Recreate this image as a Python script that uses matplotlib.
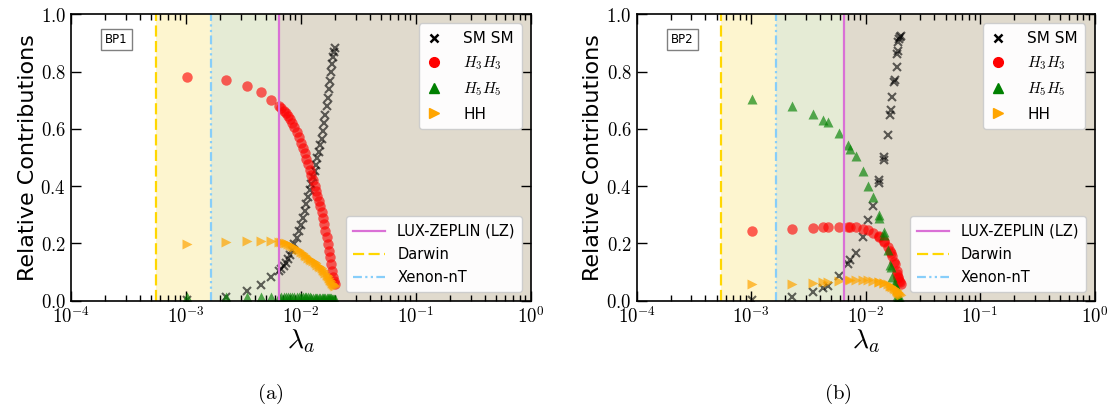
import numpy as np
import matplotlib
matplotlib.use("Agg")
import matplotlib.pyplot as plt
from matplotlib.lines import Line2D
from matplotlib.ticker import FuncFormatter, LogLocator, NullFormatter

plt.rcParams["mathtext.fontset"] = "cm"
plt.rcParams["font.family"] = "DejaVu Sans"

# experiment reach (lambda_a)
lz_lam = 6.5e-3
darwin_lam = 5.5e-4
xenon_lam = 1.66e-3

# ---- BP1 ----
lam_a = [1.03e-3, 2.24e-3, 3.39e-3, 4.5e-3, 5.55e-3, 6.5e-3, 6.8e-3, 7.1e-3, 7.4e-3,
         7.7e-3, 8.0e-3, 8.4e-3, 8.8e-3, 9.2e-3, 9.6e-3, 1.0e-2, 1.04e-2, 1.08e-2,
         1.12e-2, 1.16e-2, 1.2e-2, 1.24e-2, 1.28e-2, 1.32e-2, 1.36e-2, 1.4e-2, 1.44e-2,
         1.48e-2, 1.52e-2, 1.56e-2, 1.6e-2, 1.64e-2, 1.68e-2, 1.72e-2, 1.76e-2, 1.8e-2,
         1.84e-2, 1.88e-2, 1.92e-2, 1.96e-2, 2.0e-2]
smsm_a = [0.003, 0.012, 0.035, 0.055, 0.084, 0.102, 0.111, 0.122, 0.133,
          0.145, 0.159, 0.177, 0.197, 0.219, 0.242, 0.266, 0.289, 0.313,
          0.337, 0.362, 0.386, 0.409, 0.431, 0.453, 0.475, 0.497, 0.520,
          0.542, 0.566, 0.592, 0.620, 0.650, 0.679, 0.708, 0.738, 0.767,
          0.797, 0.826, 0.851, 0.870, 0.884]
h3h3_a = [0.782, 0.770, 0.750, 0.727, 0.700, 0.680, 0.672, 0.663, 0.654,
          0.645, 0.634, 0.620, 0.605, 0.588, 0.570, 0.551, 0.533, 0.514,
          0.495, 0.476, 0.456, 0.438, 0.420, 0.402, 0.384, 0.366, 0.348,
          0.330, 0.311, 0.290, 0.268, 0.245, 0.222, 0.198, 0.175, 0.152,
          0.128, 0.105, 0.084, 0.068, 0.057]
h5h5_a = [0.012, 0.012, 0.012, 0.012, 0.013, 0.013, 0.013, 0.013, 0.013,
          0.013, 0.013, 0.013, 0.012, 0.012, 0.012, 0.012, 0.012, 0.012,
          0.012, 0.012, 0.012, 0.011, 0.011, 0.011, 0.011, 0.011, 0.010,
          0.010, 0.010, 0.010, 0.010, 0.009, 0.009, 0.009, 0.008, 0.008,
          0.008, 0.007, 0.007, 0.007, 0.006]
hh_a = [0.197, 0.205, 0.207, 0.207, 0.207, 0.205, 0.204, 0.202, 0.200,
        0.197, 0.194, 0.190, 0.186, 0.181, 0.176, 0.171, 0.166, 0.161,
        0.156, 0.150, 0.146, 0.142, 0.138, 0.134, 0.130, 0.126, 0.122,
        0.118, 0.113, 0.108, 0.102, 0.096, 0.090, 0.085, 0.079, 0.073,
        0.067, 0.062, 0.058, 0.055, 0.053]

# ---- BP2 ----
lam_b = [1.03e-3, 2.26e-3, 3.46e-3, 4.23e-3, 4.67e-3, 5.9e-3, 7.1e-3, 7.3e-3, 8.3e-3,
         9.5e-3, 1.06e-2, 1.17e-2, 1.3e-2, 1.32e-2, 1.44e-2, 1.46e-2, 1.56e-2, 1.64e-2,
         1.66e-2, 1.71e-2, 1.78e-2, 1.80e-2, 1.87e-2, 1.90e-2, 1.92e-2, 1.93e-2, 1.95e-2,
         2.0e-2, 2.05e-2]
smsm_b = [0.003, 0.012, 0.031, 0.045, 0.052, 0.086, 0.128, 0.142, 0.166,
          0.223, 0.282, 0.330, 0.410, 0.420, 0.490, 0.503, 0.579, 0.650,
          0.665, 0.712, 0.762, 0.772, 0.817, 0.860, 0.872, 0.905, 0.915,
          0.920, 0.925]
h3h3_b = [0.243, 0.249, 0.255, 0.258, 0.258, 0.258, 0.258, 0.258, 0.256,
          0.252, 0.246, 0.238, 0.226, 0.224, 0.208, 0.205, 0.188, 0.172,
          0.167, 0.155, 0.135, 0.128, 0.105, 0.092, 0.083, 0.078, 0.070,
          0.064, 0.058]
h5h5_b = [0.703, 0.679, 0.651, 0.632, 0.624, 0.586, 0.542, 0.528, 0.505,
          0.453, 0.401, 0.363, 0.298, 0.290, 0.240, 0.231, 0.176, 0.125,
          0.116, 0.084, 0.059, 0.058, 0.042, 0.015, 0.014, 0.008, 0.005,
          0.004, 0.003]
hh_b = [0.057, 0.060, 0.063, 0.065, 0.066, 0.070, 0.072, 0.072, 0.073,
        0.072, 0.071, 0.069, 0.066, 0.066, 0.062, 0.061, 0.057, 0.053,
        0.052, 0.049, 0.044, 0.042, 0.036, 0.033, 0.031, 0.029, 0.027,
        0.024, 0.021]


def panel(ax, lam, sm, h3, h5, hh, tag):
    ax.axvspan(darwin_lam, xenon_lam, color="#fdf5cf", lw=0, zorder=0)
    ax.axvspan(xenon_lam, lz_lam, color="#e5ebd5", lw=0, zorder=0)
    ax.axvspan(lz_lam, 1.0, color="#e0dacd", lw=0, zorder=0)

    ax.plot(lam, sm, "x", color="black", alpha=0.6, ms=6, mew=1.5, ls="none")
    ax.plot(lam, h3, "o", color="red", alpha=0.62, ms=7.5, mec="none", ls="none")
    ax.plot(lam, h5, "^", color="green", alpha=0.65, ms=7, mec="none", ls="none")
    ax.plot(lam, hh, ">", color="orange", alpha=0.7, ms=7, mec="none", ls="none")

    l_lz = ax.axvline(lz_lam, color="orchid", lw=1.6)
    l_dw = ax.axvline(darwin_lam, color="gold", lw=1.6, ls=(0, (5, 2)))
    l_xe = ax.axvline(xenon_lam, color="lightskyblue", lw=1.6, ls=(0, (4, 1.5, 1, 1.5, 1, 1.5)))

    ax.set_xscale("log")
    ax.set_xlim(1e-4, 1.0)
    ax.set_ylim(0, 1.0)
    ax.set_yticks([0, 0.2, 0.4, 0.6, 0.8, 1.0])
    ax.xaxis.set_major_locator(LogLocator(base=10, numticks=10))
    ax.xaxis.set_minor_locator(LogLocator(base=10, subs=np.arange(2, 10), numticks=20))
    ax.xaxis.set_minor_formatter(NullFormatter())
    ax.xaxis.set_major_formatter(FuncFormatter(lambda v, p: r"$10^{%d}$" % round(np.log10(v))))
    ax.yaxis.set_major_formatter(FuncFormatter(lambda v, p: r"$%.1f$" % v))
    ax.tick_params(which="both", direction="in", top=True, right=True, labelsize=13.5)
    ax.tick_params(which="major", length=7, width=1)
    ax.tick_params(which="minor", length=4, width=1)
    for s in ax.spines.values():
        s.set_linewidth(1.2)

    ax.set_xlabel(r"$\lambda_a$", fontsize=20, labelpad=0)
    ax.set_ylabel("Relative Contributions", fontsize=16, labelpad=2)

    ax.text(0.075, 0.9, tag, transform=ax.transAxes, fontsize=8.5,
            bbox=dict(boxstyle="square,pad=0.35", fc="white", ec="gray", lw=1))

    handles = [
        Line2D([], [], marker="x", color="black", ls="none", ms=6, mew=1.8),
        Line2D([], [], marker="o", color="red", ls="none", ms=7),
        Line2D([], [], marker="^", color="green", ls="none", ms=7),
        Line2D([], [], marker=">", color="orange", ls="none", ms=7),
    ]
    leg1 = ax.legend(handles, ["SM SM", r"$H_3H_3$", r"$H_5H_5$", "HH"],
                     loc="upper right", fontsize=11, handlelength=1.0, handletextpad=1.4,
                     labelspacing=0.55, borderaxespad=0.6, borderpad=0.5,
                     framealpha=0.95, edgecolor="#cccccc")
    ax.add_artist(leg1)
    ax.legend([l_lz, l_dw, l_xe], ["LUX-ZEPLIN (LZ)", "Darwin", "Xenon-nT"],
              loc="lower right", fontsize=10.5, handlelength=2.2, handletextpad=0.8,
              labelspacing=0.55, borderaxespad=0.6, borderpad=0.5,
              framealpha=0.95, edgecolor="#cccccc")


fig = plt.figure(figsize=(11.13, 4.11), dpi=100)
ax1 = fig.add_axes([0.0635, 0.2684, 0.4133, 0.6968])
ax2 = fig.add_axes([0.5719, 0.2684, 0.4115, 0.6968])

panel(ax1, lam_a, smsm_a, h3h3_a, h5h5_a, hh_a, "BP1")
panel(ax2, lam_b, smsm_b, h3h3_b, h5h5_b, hh_b, "BP2")

fig.text(0.243, 0.03, r"$(\mathrm{a})$", fontsize=15, ha="center")
fig.text(0.753, 0.03, r"$(\mathrm{b})$", fontsize=15, ha="center")

fig.savefig("out.png", dpi=100)
